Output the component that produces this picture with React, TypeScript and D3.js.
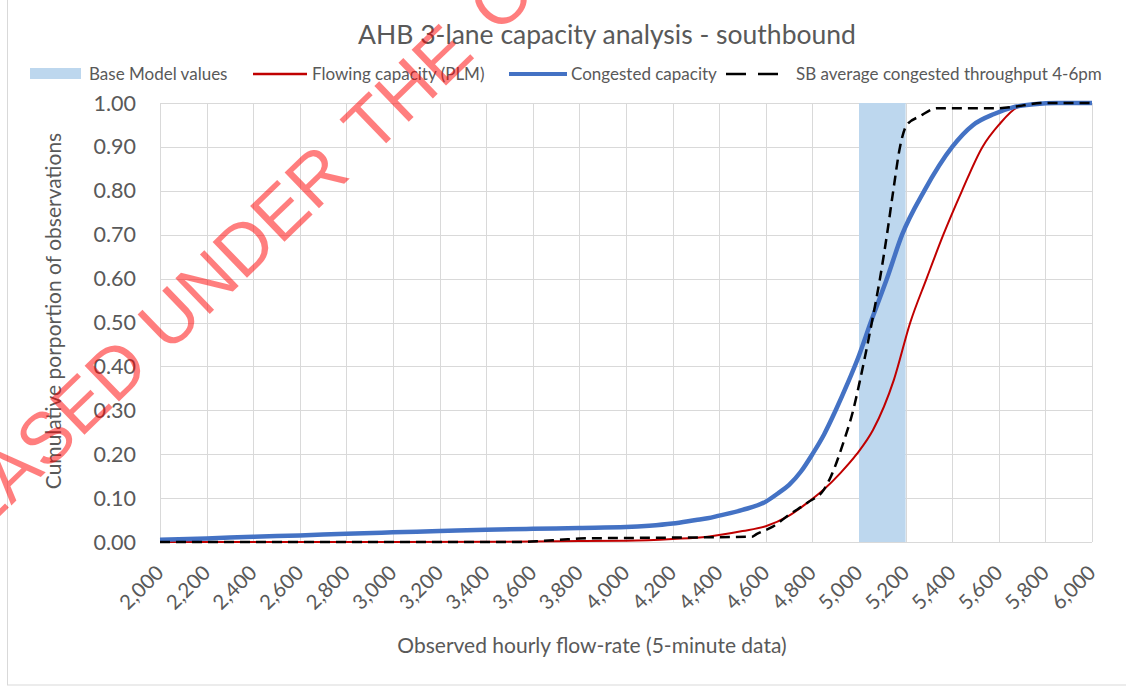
import React from "react";
import * as d3 from "d3";

// Flowing capacity (PLM) - red
const flowX = [2000, 3000, 3600, 3800, 4000, 4200, 4350, 4500, 4600, 4700, 4780, 4850, 4920, 4990, 5060, 5150, 5220, 5290, 5362, 5442, 5530, 5600, 5680, 5750, 5800, 6000];
const flowY = [0, 0, 0.001, 0.002, 0.003, 0.007, 0.012, 0.025, 0.036, 0.06, 0.09, 0.12, 0.157, 0.2, 0.255, 0.37, 0.5, 0.6, 0.7, 0.8, 0.9, 0.95, 0.99, 0.998, 1, 1];

// Congested capacity - blue
const congX = [2000, 2200, 2400, 2600, 2800, 3000, 3200, 3400, 3600, 3800, 4000, 4100, 4200, 4300, 4350, 4400, 4500, 4600, 4650, 4700, 4750, 4800, 4850, 4900, 4950, 5000, 5050, 5120, 5185, 5280, 5400, 5490, 5580, 5660, 5750, 5850, 6000];
const congY = [0.005, 0.008, 0.012, 0.015, 0.019, 0.022, 0.025, 0.028, 0.03, 0.032, 0.034, 0.037, 0.042, 0.05, 0.054, 0.06, 0.073, 0.092, 0.11, 0.13, 0.16, 0.2, 0.245, 0.3, 0.36, 0.425, 0.5, 0.6, 0.7, 0.8, 0.9, 0.95, 0.975, 0.99, 0.997, 1, 1];

// SB average congested throughput 4-6pm - black dashed
const sbX = [2000, 3550, 3650, 3750, 3800, 4200, 4540, 4560, 4630, 4700, 4780, 4850, 4880, 4935, 4975, 5005, 5055, 5090, 5120, 5147, 5176, 5205, 5262, 5335, 5590, 5700, 5780, 6000];
const sbY = [0, 0, 0.003, 0.006, 0.008, 0.01, 0.012, 0.018, 0.035, 0.062, 0.09, 0.12, 0.15, 0.23, 0.3, 0.37, 0.5, 0.6, 0.7, 0.8, 0.9, 0.95, 0.97, 0.988, 0.988, 0.994, 1, 1];

// Base Model values band
const baseBand = [5000, 5200];

const xTicks = d3.range(2000, 6001, 200);
const yTicks = d3.range(0, 1.0001, 0.1);

const legendItems = ["Base Model values", "Flowing capacity (PLM)", "Congested capacity", "SB average congested throughput 4-6pm"];

const W = 1126;
const H = 691;
const margin = { left: 160, right: 34, top: 103, bottom: 149 };
const FONT = "Lato, 'Open Sans', sans-serif";
const TXT = "#595959";

const App: React.FC = () => {
    const x = d3.scaleLinear().domain([2000, 6000]).range([margin.left, W - margin.right]);
    const y = d3.scaleLinear().domain([0, 1]).range([H - margin.bottom, margin.top]);

    const line = d3
        .line<[number, number]>()
        .x((d) => x(d[0]))
        .y((d) => y(d[1]))
        .curve(d3.curveMonotoneX);

    const zip = (a: number[], b: number[]) => a.map((v, i) => [v, b[i]] as [number, number]);

    const fmtX = d3.format(",");
    const fmtY = d3.format(".2f");

    return (
        <svg width={W} height={H} style={{ position: "absolute", left: 0, top: 0, background: "#fff" }}>
            <rect x={7.5} y={-1} width={W + 2} height={686} fill="#fff" stroke="#d9d9d9" />

            {/* title */}
            <text x={607} y={44} textAnchor="middle" fontFamily={FONT} fontSize={26.5} fill={TXT}>
                AHB 3-lane capacity analysis - southbound
            </text>

            {/* legend */}
            <g fontFamily={FONT} fontSize={17} fill={TXT}>
                <rect x={30} y={68} width={51} height={11} fill="#bdd7ee" />
                <text x={89} y={80}>{legendItems[0]}</text>
                <line x1={253} x2={307} y1={74} y2={74} stroke="#c00000" strokeWidth={2.5} />
                <text x={312} y={80}>{legendItems[1]}</text>
                <line x1={509} x2={567} y1={74} y2={74} stroke="#4472c4" strokeWidth={4} />
                <text x={571} y={80}>{legendItems[2]}</text>
                <line x1={726} x2={780} y1={74} y2={74} stroke="#000" strokeWidth={2.5} strokeDasharray="20,12" />
                <text x={796} y={80}>{legendItems[3]}</text>
            </g>

            {/* gridlines */}
            <g stroke="#d9d9d9" strokeWidth={1}>
                {yTicks.map((t) => (
                    <line key={"y" + t} x1={x(2000)} x2={x(6000)} y1={Math.round(y(t)) + 0.5} y2={Math.round(y(t)) + 0.5} />
                ))}
                {xTicks.map((t) => (
                    <line key={"x" + t} x1={Math.round(x(t)) + 0.5} x2={Math.round(x(t)) + 0.5} y1={y(0)} y2={y(1)} />
                ))}
            </g>

            {/* base model band */}
            <rect
                x={x(baseBand[0])}
                width={x(baseBand[1]) - x(baseBand[0])}
                y={y(1)}
                height={y(0) - y(1)}
                fill="#bdd7ee"
            />

            {/* series */}
            <path d={line(zip(flowX, flowY)) || ""} fill="none" stroke="#c00000" strokeWidth={2} />
            <path d={line(zip(congX, congY)) || ""} fill="none" stroke="#4472c4" strokeWidth={4.5} />
            <path d={line(zip(sbX, sbY)) || ""} fill="none" stroke="#000" strokeWidth={2.5} strokeDasharray="10,6" />

            {/* y tick labels */}
            <g fontFamily={FONT} fontSize={21.5} fill={TXT} textAnchor="end">
                {yTicks.map((t) => (
                    <text key={"yl" + t} x={136} y={y(t) + 7.5}>
                        {fmtY(t)}
                    </text>
                ))}
            </g>

            {/* x tick labels */}
            <g fontFamily={FONT} fontSize={20.5} fill={TXT} textAnchor="end">
                {xTicks.map((t) => (
                    <text key={"xl" + t} transform={`translate(${x(t) + 5},${574}) rotate(-45)`}>
                        {fmtX(t)}
                    </text>
                ))}
            </g>

            {/* axis titles */}
            <text x={592} y={653} textAnchor="middle" fontFamily={FONT} fontSize={21} fill={TXT}>
                Observed hourly flow-rate (5-minute data)
            </text>
            <text
                transform={`translate(61,311) rotate(-90)`}
                textAnchor="middle"
                fontFamily={FONT}
                fontSize={21}
                fill={TXT}
            >
                Cumulative porportion of observations
            </text>

            {/* watermark */}
            <g
                transform="translate(168,354) rotate(-44)"
                fontFamily="'Liberation Sans', Arial, sans-serif"
                fontSize={72}
                fill="#ff0000"
                opacity={0.5}
                pointerEvents="none"
            >
                <text x={-22} textAnchor="end">RELEASED</text>
                <text x={0} wordSpacing={10}>UNDER THE OFFICIAL INFORMATION ACT</text>
            </g>
        </svg>
    );
};

export default App;
